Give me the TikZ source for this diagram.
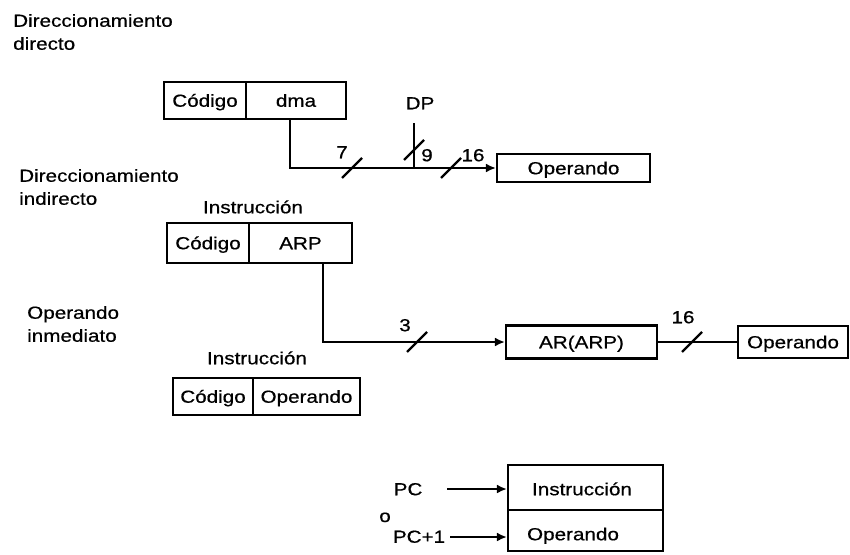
\documentclass[tikz,border=0pt]{standalone}
\usepackage{fontspec}
\setmainfont{Liberation Sans}[FakeStretch=1.18,FakeBold=0.6]
\usetikzlibrary{arrows.meta}
\tikzset{
  pics/busslash/.style={code={\draw[busmark] (-10,10) -- (10,-10);}}
}
\begin{document}
\begin{tikzpicture}[x=1pt,y=-1pt,
  every node/.style={font=\fontsize{17.5}{21}\selectfont},
  txt/.style={inner sep=0pt, text height=12.5pt, text depth=0pt},
  cell/.style={draw, line width=2.2pt, inner sep=0pt, text height=12.5pt, text depth=0pt},
  conn/.style={line width=2.2pt},
  arr/.style={conn, -{Latex[length=10pt,width=9pt]}},
  busmark/.style={line width=2.2pt}
]
\useasboundingbox (0,0) rectangle (850,554);

% Section labels
\node[txt, anchor=west] (s1a) at (13,20.5) {Direccionamiento};
\node[txt, anchor=west] (s1b) at (13,43.5) {directo};
\node[txt, anchor=west] (s2a) at (19,175.5) {Direccionamiento};
\node[txt, anchor=west] (s2b) at (19,198.5) {indirecto};
\node[txt, anchor=west] (s3a) at (27,312.5) {Operando};
\node[txt, anchor=west] (s3b) at (27,335.5) {inmediato};

% Direct addressing
\node[cell, minimum width=82pt, minimum height=37pt] (cod1) at (205,100.5) {Código};
\node[cell, minimum width=100pt, minimum height=37pt] (dma) at (296,100.5) {dma};
\node[cell, minimum width=153pt, minimum height=28pt] (op1) at (573.5,168) {Operando};
\node[txt] (dp) at (420,103) {DP};
\coordinate (dptop) at (414,123);
\draw[arr] ([xshift=-6pt]dma.south) |- (op1.west);
\draw[conn] (dptop) -- (dptop |- op1.west);
\pic at (352,168) {busslash};
\pic at (414,150) {busslash};
\pic at (451,168) {busslash};
\node[txt] (n7) at (342,152) {7};
\node[txt] (n9) at (427,155) {9};
\node[txt] (n16a) at (473,155) {16};

% Indirect addressing
\node[txt] (ins2) at (253,207) {Instrucción};
\node[cell, minimum width=82pt, minimum height=40pt] (cod2) at (208,243) {Código};
\node[cell, minimum width=103pt, minimum height=40pt] (arp) at (300.5,243) {ARP};
\node[cell, minimum width=151pt, minimum height=33pt] (ar) at (581.5,342) {AR(ARP)};
\node[cell, minimum width=110pt, minimum height=32pt] (op2) at (793,342) {Operando};
\draw[arr] ([xshift=22.5pt]arp.south) |- (ar.west);
\draw[conn] (ar.east) -- (op2.west);
\pic at (417,342) {busslash};
\pic at (692,342) {busslash};
\node[txt] (n3) at (405,325) {3};
\node[txt] (n16b) at (683,317) {16};

% Immediate operand
\node[txt] (ins3) at (257,358) {Instrucción};
\node[cell, minimum width=80pt, minimum height=37pt] (cod3) at (213,396.5) {Código};
\node[cell, minimum width=107pt, minimum height=37pt] (op3) at (306.5,396.5) {Operando};

% PC / PC+1
\node[cell, minimum width=155pt, minimum height=45pt] (ins4) at (585.5,487.5) {};
\node[cell, minimum width=155pt, minimum height=41pt] (op4) at (585.5,530.5) {};
\node[txt] (ins4t) at (582,489) {Instrucción};
\node[txt] (op4t) at (573,534) {Operando};
\node[txt] (pc) at (408,489) {PC};
\node[txt] (oo) at (385,515.75) {o};
\node[txt] (pc1) at (419,536.5) {PC+1};
\coordinate (pcs) at (447,489);
\coordinate (pc1s) at (450,537);
\draw[arr] (pcs) -- (pcs -| ins4.west);
\draw[arr] (pc1s) -- (pc1s -| op4.west);
\end{tikzpicture}
\end{document}
